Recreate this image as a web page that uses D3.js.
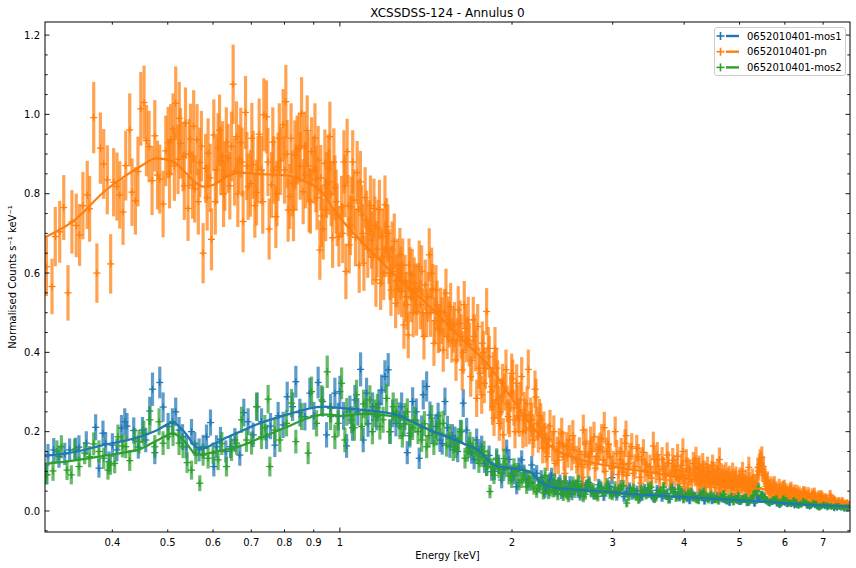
<!DOCTYPE html>
<html><head><meta charset="utf-8">
<script src="https://cdn.jsdelivr.net/npm/d3@7/dist/d3.min.js"></script>
<style>body{margin:0;background:#fff}svg{display:block}text{font-family:"DejaVu Sans",sans-serif;fill:#000}</style>
</head><body>
<svg id="c" width="856" height="568"></svg>
<script>
// ---------------- DATA ----------------
const title = "XCSSDSS-124 - Annulus 0";
const seriesNames = ["0652010401-mos1", "0652010401-pn", "0652010401-mos2"];
const seriesColors = ["#1f77b4", "#ff7f0e", "#2ca02c"];
const xTickValues = [0.4,0.5,0.6,0.7,0.8,0.9,1,2,3,4,5,6,7];
const xTickLabels = ["0.4","0.5","0.6","0.7","0.8","0.9","1","2","3","4","5","6","7"];
const yTickValues = [0,0.2,0.4,0.6,0.8,1.0,1.2];
const yTickLabels = ["0.0","0.2","0.4","0.6","0.8","1.0","1.2"];

// [energy keV, normalised counts, 1-sigma error]
const pnData = [
[0.3067,0.616,0.074],[0.3137,0.566,0.07],[0.3179,0.692,0.075],[0.3236,0.704,0.078],[0.3289,0.765,0.082],[0.3346,0.55,0.07],[0.3399,0.729,0.08],[0.3459,0.72,0.08],[0.3506,0.696,0.078],[0.3553,0.77,0.085],[0.3615,0.797,0.086],[0.3651,0.762,0.083],[0.3711,0.992,0.09],[0.3759,0.60,0.075],[0.3812,0.915,0.09],[0.3863,0.875,0.088],[0.392,0.835,0.087],[0.3973,0.623,0.075],[0.4021,0.829,0.086],[0.4075,0.818,0.086],[0.4121,0.797,0.085],[0.4176,0.754,0.083],[0.4222,0.871,0.088],[0.429,0.961,0.092],[0.433,0.804,0.085],[0.4389,0.782,0.085],[0.4435,0.856,0.088],[0.4485,1.014,0.093],[0.4545,1.03,0.093],[0.4589,0.934,0.09],[0.4638,0.919,0.09],[0.4694,0.833,0.087],[0.4746,0.946,0.09],[0.4798,0.847,0.087],[0.4842,0.837,0.087],[0.4907,0.774,0.084],[0.4961,0.908,0.089],[0.5007,0.929,0.09],[0.506,0.936,0.09],[0.5108,0.963,0.09],[0.5163,1.028,0.093],[0.5211,0.887,0.088],[0.5263,0.927,0.089],[0.5318,0.894,0.088],[0.537,0.978,0.09],[0.5426,0.763,0.082],[0.5479,0.938,0.089],[0.5524,0.822,0.085],[0.5575,0.812,0.085],[0.5626,0.936,0.09],[0.5689,0.879,0.088],[0.5765,0.65,0.076],[0.5822,0.864,0.087],[0.5882,0.902,0.088],[0.5963,0.685,0.078],[0.6019,0.948,0.09],[0.6084,0.86,0.086],[0.6123,0.915,0.088],[0.6191,0.883,0.087],[0.6234,0.895,0.088],[0.6292,0.843,0.086],[0.6376,0.889,0.087],[0.6464,0.919,0.088],[0.6506,1.076,0.1],[0.6545,0.856,0.086],[0.6595,0.944,0.089],[0.6658,0.887,0.087],[0.671,0.929,0.088],[0.6773,0.73,0.078],[0.6839,1.005,0.092],[0.691,0.818,0.084],[0.6978,0.826,0.084],[0.7052,0.873,0.086],[0.7149,0.803,0.083],[0.7225,0.95,0.09],[0.7294,0.86,0.086],[0.7362,0.999,0.092],[0.7442,0.994,0.092],[0.7521,0.711,0.077],[0.7594,0.822,0.083],[0.7665,0.86,0.085],[0.7727,0.742,0.079],[0.7798,0.868,0.086],[0.7874,0.883,0.086],[0.7957,0.974,0.09],[0.8044,1.032,0.093],[0.8119,0.759,0.08],[0.8175,0.793,0.082],[0.8251,0.826,0.083],[0.8342,0.898,0.087],[0.8418,0.91,0.087],[0.8487,0.915,0.088],[0.857,1.003,0.091],[0.8625,0.805,0.082],[0.8709,0.847,0.084],[0.8766,0.959,0.089],[0.8836,0.784,0.081],[0.8922,0.906,0.087],[0.9005,0.86,0.085],[0.9078,0.837,0.084],[0.9162,0.885,0.086],[0.9226,0.658,0.075],[0.929,0.744,0.079],[0.935,0.711,0.077],[0.9414,0.877,0.085],[0.9478,0.822,0.083],[0.954,0.864,0.085],[0.9605,0.944,0.088],[0.971,0.689,0.076],[0.9801,0.815,0.082],[0.989,0.747,0.079],[0.9961,0.692,0.076],
[0.5035,0.85,0.087],[0.5135,0.87,0.088],[0.5237,0.99,0.092],[0.5345,0.82,0.086],[0.545,0.9,0.088],[0.555,0.97,0.091],[0.5655,0.78,0.083],[0.5725,0.92,0.089],[0.586,0.79,0.083],[0.593,0.84,0.086],[0.6055,0.78,0.083],[0.616,0.96,0.09],[0.626,0.8,0.084],[0.633,0.93,0.088],[0.642,0.82,0.085],[0.663,0.8,0.084],[0.6745,0.88,0.087],[0.6875,0.87,0.086],[0.7015,0.94,0.089],[0.71,0.77,0.081],[0.719,0.86,0.085],[0.733,0.78,0.081],[0.7485,0.88,0.086],[0.7633,0.93,0.088],[0.776,0.8,0.082],[0.7835,0.94,0.088],[0.8,0.86,0.085],[0.8085,0.9,0.086],[0.8215,0.94,0.088],[0.8295,0.76,0.08],[0.838,0.84,0.083],[0.8525,0.87,0.085],[0.867,0.92,0.087],[0.88,0.87,0.085],[0.888,0.78,0.081],[0.9045,0.94,0.088],[0.912,0.79,0.081],[0.926,0.84,0.083],[0.9445,0.76,0.08],[0.9575,0.83,0.083],[0.9655,0.8,0.082],[0.976,0.88,0.085],[0.985,0.78,0.081],
[1.0069,0.767,0.078],[1.0163,0.88,0.08],[1.0245,0.604,0.07],[1.0297,0.906,0.083],[1.0382,0.671,0.072],[1.0483,0.767,0.076],[1.058,0.784,0.077],[1.072,0.853,0.08],[1.0809,0.62,0.07],[1.0914,0.747,0.075],[1.1016,0.625,0.07],[1.1135,0.734,0.074],[1.1253,0.711,0.073],[1.1363,0.683,0.072],[1.1469,0.763,0.075],[1.1561,0.583,0.068],[1.1669,0.713,0.072],[1.1782,0.574,0.067],[1.1878,0.692,0.071],[1.1989,0.772,0.074],[1.207,0.717,0.072],[1.2184,0.641,0.069],[1.2281,0.557,0.065],[1.2396,0.604,0.067],[1.2517,0.524,0.063],[1.2619,0.62,0.067],[1.2735,0.646,0.068],[1.2823,0.553,0.064],[1.2943,0.469,0.06],[1.3047,0.54,0.063],[1.3168,0.444,0.059],[1.3258,0.599,0.066],[1.3381,0.595,0.066],[1.349,0.574,0.065],[1.362,0.503,0.061],[1.3764,0.616,0.066],[1.3899,0.604,0.066],[1.4029,0.44,0.058],[1.4181,0.499,0.061],[1.4331,0.646,0.067],[1.447,0.599,0.065],[1.4605,0.423,0.057],[1.4723,0.557,0.063],[1.486,0.456,0.058],[1.5004,0.503,0.06],[1.5162,0.406,0.055],[1.5329,0.549,0.062],[1.5471,0.482,0.059],[1.5621,0.515,0.06],[1.5786,0.456,0.057],[1.5959,0.381,0.053],[1.6107,0.507,0.06],[1.6218,0.473,0.058],[1.6369,0.356,0.052],[1.6502,0.52,0.06],[1.6661,0.431,0.056],[1.6769,0.482,0.058],[1.6931,0.339,0.051],[1.711,0.482,0.058],[1.7277,0.406,0.054],[1.7345,0.284,0.047],[1.7418,0.465,0.057],[1.7578,0.347,0.051],[1.77,0.293,0.048],[1.7742,0.423,0.055],[1.7886,0.322,0.05],[1.8058,0.503,0.059],[1.8176,0.41,0.054],[1.825,0.389,0.053],[1.8427,0.314,0.049],[1.8486,0.263,0.046],[1.86,0.234,0.045],[1.8674,0.41,0.054],[1.88,0.36,0.051],[1.888,0.33,0.05],[1.90,0.221,0.044],[1.9184,0.288,0.047],[1.9245,0.322,0.049],[1.9308,0.192,0.042],[1.952,0.356,0.051],[1.97,0.238,0.044],[1.9893,0.297,0.047],[1.9974,0.347,0.05],[2.0055,0.333,0.049],[2.0242,0.2,0.042],[2.0379,0.322,0.048],[2.0426,0.272,0.046],[2.0595,0.23,0.043],[2.0794,0.339,0.049],[2.0989,0.255,0.045],[2.1158,0.204,0.042],[2.1354,0.357,0.05],[2.1561,0.242,0.044],[2.1737,0.179,0.04],[2.194,0.307,0.047],[2.2028,0.287,0.046],[2.2232,0.187,0.04],[2.2448,0.23,0.042],[2.2631,0.158,0.038],[2.2842,0.183,0.039],[2.305,0.137,0.036],
[1.0115,0.7,0.075],[1.0205,0.82,0.079],[1.034,0.77,0.077],[1.043,0.72,0.075],[1.053,0.88,0.08],[1.065,0.69,0.073],[1.0765,0.76,0.076],[1.086,0.83,0.078],[1.0965,0.7,0.074],[1.107,0.79,0.077],[1.119,0.66,0.072],[1.131,0.77,0.076],[1.1415,0.64,0.07],[1.1515,0.72,0.073],[1.1615,0.66,0.071],[1.1725,0.76,0.075],[1.183,0.64,0.07],[1.193,0.6,0.068],[1.2025,0.66,0.07],[1.213,0.7,0.072],[1.2235,0.6,0.068],[1.234,0.66,0.07],[1.245,0.68,0.07],[1.2565,0.58,0.066],[1.268,0.56,0.065],[1.278,0.6,0.067],[1.288,0.62,0.067],[1.3,0.58,0.066],[1.311,0.52,0.063],[1.321,0.62,0.067],[1.332,0.54,0.064],[1.3435,0.5,0.062],[1.3555,0.56,0.064],[1.369,0.56,0.064],[1.383,0.52,0.062],[1.396,0.5,0.061],[1.41,0.57,0.064],[1.4255,0.54,0.063],[1.44,0.5,0.061],[1.4535,0.56,0.063],[1.4665,0.48,0.06],[1.479,0.52,0.061],[1.493,0.46,0.059],[1.508,0.48,0.059],[1.524,0.5,0.06],[1.54,0.44,0.057],[1.5545,0.47,0.058],[1.57,0.43,0.056],[1.587,0.47,0.057],[1.603,0.43,0.056],[1.629,0.44,0.056],[1.6435,0.4,0.054],[1.658,0.46,0.057],[1.684,0.42,0.055],[1.702,0.38,0.053],[1.719,0.44,0.056],[1.75,0.36,0.052],[1.7815,0.4,0.054],[1.797,0.36,0.052],[1.835,0.3,0.048],[1.8545,0.35,0.051],[1.875,0.28,0.047],[1.8935,0.27,0.046],[1.909,0.25,0.045],[1.94,0.3,0.047],[1.9615,0.27,0.046],[1.98,0.23,0.044],[2.015,0.26,0.045],[2.05,0.24,0.044],[2.069,0.28,0.046],[2.089,0.2,0.042],[2.107,0.24,0.044],[2.125,0.27,0.045],[2.145,0.21,0.042],[2.165,0.23,0.043],[2.184,0.2,0.041],[2.213,0.22,0.042],[2.234,0.24,0.043],[2.254,0.2,0.041],[2.2735,0.21,0.041],[2.295,0.16,0.038],
[2.3305,0.214,0.041],[2.3561,0.162,0.038],[2.378,0.12,0.035],[2.3997,0.15,0.037],[2.4195,0.171,0.038],[2.443,0.196,0.039],[2.4659,0.137,0.036],[2.4925,0.162,0.037],[2.519,0.179,0.038],[2.5435,0.137,0.035],[2.5673,0.154,0.036],[2.5951,0.129,0.035],[2.6226,0.15,0.036],[2.6457,0.118,0.034],[2.6651,0.204,0.039],[2.6943,0.171,0.037],[2.7304,0.137,0.035],[2.7569,0.15,0.036],[2.7826,0.187,0.038],[2.8128,0.137,0.035],[2.8506,0.162,0.036],[2.8888,0.129,0.034],[2.9284,0.15,0.035],[2.9678,0.137,0.034],[3.0076,0.12,0.032],[3.0488,0.145,0.034],[3.0898,0.129,0.033],[3.121,0.098,0.03],[3.1528,0.171,0.035],[3.1949,0.12,0.032],[3.239,0.162,0.034],[3.2824,0.112,0.031],[3.3262,0.137,0.032],[3.3721,0.129,0.032],[3.4173,0.103,0.03],[3.4588,0.09,0.029],[3.4867,0.112,0.03],[3.5334,0.164,0.036],[3.5721,0.098,0.029],[3.6052,0.112,0.03],[3.6786,0.106,0.03],[3.7189,0.088,0.028],[3.7534,0.12,0.03],[3.8054,0.095,0.028],[3.8409,0.112,0.029],[3.8825,0.103,0.029],[3.9101,0.08,0.027],[3.9346,0.087,0.027],[3.9743,0.1,0.028],[4.0149,0.082,0.026],[4.055,0.107,0.028],[4.0964,0.103,0.028],[4.1513,0.12,0.029],[4.18,0.088,0.026],[4.2082,0.091,0.026],[4.2381,0.105,0.027],[4.2648,0.078,0.025],[4.2942,0.094,0.026],[4.322,0.087,0.025],[4.3518,0.072,0.024],[4.3812,0.095,0.026],[4.4124,0.083,0.025],[4.4401,0.074,0.024],[4.4707,0.1,0.026],[4.4996,0.082,0.024],[4.5307,0.067,0.023],[4.5613,0.09,0.025],[4.5911,0.087,0.024],[4.6226,0.064,0.022],[4.6545,0.07,0.023],[4.6882,0.092,0.025],[4.717,0.06,0.022],[4.7488,0.078,0.023],[4.7825,0.085,0.024],[4.8127,0.066,0.022],[4.8459,0.058,0.021],[4.8772,0.072,0.022],[4.9109,0.082,0.023],[4.9441,0.06,0.021],[4.9763,0.07,0.022],[5.0105,0.087,0.023],[5.0451,0.062,0.021],[5.0776,0.074,0.022],[5.1127,0.055,0.02],[5.1473,0.068,0.021],[5.1809,0.061,0.021],[5.2165,0.05,0.019],[5.2525,0.066,0.021],[5.2864,0.07,0.021],[5.3229,0.06,0.02],[5.3714,0.091,0.023],[5.4017,0.1,0.024],[5.431,0.129,0.027],[5.4685,0.135,0.028],[5.5038,0.112,0.026],[5.5418,0.085,0.023],[5.5793,0.074,0.022],[5.6157,0.06,0.02],[5.6542,0.057,0.02],[5.6932,0.048,0.019],[5.73,0.062,0.02],[5.7695,0.053,0.019],[5.8086,0.042,0.018],[5.8464,0.05,0.019],[5.8867,0.045,0.018],[5.9273,0.055,0.019],[5.9656,0.057,0.019],[6.0068,0.04,0.017],[6.0474,0.046,0.018],[6.0868,0.04,0.017],[6.1287,0.052,0.018],[6.171,0.036,0.016],[6.2108,0.044,0.017],[6.2537,0.034,0.016],[6.296,0.049,0.017],[6.3371,0.038,0.016],[6.3806,0.04,0.016],[6.4323,0.03,0.015],[6.4712,0.047,0.016],[6.5108,0.045,0.016],[6.5637,0.032,0.015],[6.6429,0.032,0.015],[6.6967,0.042,0.015],[6.7372,0.03,0.014],[6.7784,0.036,0.014],[6.8336,0.025,0.013],[6.8747,0.038,0.014],[6.916,0.028,0.013],[6.972,0.035,0.013],[7.0142,0.022,0.012],[7.0571,0.032,0.013],[7.1145,0.026,0.012],[7.2003,0.04,0.013],[7.2586,0.022,0.011],[7.3025,0.028,0.012],[7.3472,0.024,0.011],[7.407,0.018,0.01],[7.4963,0.02,0.01],[7.557,0.025,0.01],[7.6027,0.016,0.009],[7.6492,0.015,0.009],[7.7114,0.02,0.009],[7.7738,0.015,0.009],
[2.318,0.18,0.04],[2.367,0.2,0.041],[2.41,0.128,0.035],[2.455,0.165,0.037],[2.505,0.145,0.036],[2.555,0.19,0.039],[2.61,0.112,0.033],[2.68,0.142,0.035],[2.715,0.118,0.033],[2.745,0.176,0.037],[2.795,0.108,0.033],[2.83,0.155,0.035],[2.87,0.182,0.037],[2.91,0.1,0.031],[2.95,0.168,0.036],[2.99,0.108,0.032],[3.03,0.2,0.038],[3.07,0.092,0.03],[3.105,0.15,0.034],[3.137,0.118,0.032],[3.175,0.09,0.03],[3.215,0.138,0.033],[3.26,0.095,0.03],[3.305,0.158,0.034],[3.35,0.085,0.029],[3.395,0.148,0.033],[3.44,0.118,0.031],[3.51,0.083,0.028],[3.55,0.13,0.032],[3.59,0.142,0.032],[3.625,0.08,0.028],[3.66,0.13,0.031],[3.7,0.095,0.029],[3.735,0.141,0.032],[3.78,0.078,0.027],[3.82,0.128,0.031],[3.86,0.09,0.028],[3.895,0.138,0.031],[3.955,0.115,0.03],[3.995,0.07,0.026],[4.035,0.126,0.03],[4.075,0.09,0.027],[4.12,0.074,0.026],[4.165,0.108,0.028],[4.195,0.132,0.03],[4.225,0.07,0.025],[4.25,0.112,0.028],[4.28,0.065,0.024],[4.31,0.118,0.028],[4.335,0.1,0.027],[4.365,0.062,0.024],[4.395,0.11,0.027],[4.425,0.092,0.026],[4.455,0.06,0.023],[4.485,0.115,0.027],[4.515,0.098,0.026],[4.545,0.07,0.024],[4.575,0.105,0.026],[4.605,0.058,0.022],[4.64,0.096,0.025],[4.67,0.082,0.024],[4.70,0.072,0.023],[4.733,0.098,0.025],[4.765,0.064,0.022],[4.797,0.09,0.024],[4.83,0.075,0.023],[4.862,0.098,0.024],[4.895,0.06,0.022],[4.927,0.088,0.024],[4.96,0.052,0.021],[4.993,0.08,0.023],[5.028,0.068,0.022],[5.06,0.1,0.024],[5.095,0.07,0.022],[5.13,0.082,0.023],[5.165,0.05,0.02],[5.198,0.076,0.022],[5.234,0.062,0.021],[5.27,0.085,0.022],[5.305,0.052,0.02],[5.345,0.072,0.021],[5.385,0.11,0.025],[5.416,0.118,0.026],[5.45,0.122,0.027],[5.486,0.098,0.025],[5.522,0.09,0.024],[5.56,0.062,0.021],[5.598,0.078,0.022],[5.635,0.048,0.019],[5.673,0.066,0.021],[5.71,0.05,0.019],[5.75,0.068,0.02],[5.79,0.056,0.019],[5.828,0.038,0.017],[5.866,0.062,0.019],[5.905,0.05,0.018],[5.945,0.04,0.017],[5.986,0.06,0.019],[6.027,0.052,0.018],[6.067,0.034,0.016],[6.107,0.047,0.017],[6.15,0.056,0.018],[6.19,0.04,0.016],[6.23,0.05,0.017],[6.275,0.042,0.016],[6.316,0.03,0.015],[6.358,0.046,0.016],[6.405,0.036,0.015],[6.452,0.042,0.016],[6.49,0.028,0.014],[6.537,0.038,0.015],[6.6,0.045,0.015],[6.67,0.026,0.013],[6.717,0.036,0.014],[6.757,0.044,0.015],[6.805,0.03,0.013],[6.855,0.022,0.012],[6.895,0.033,0.013],[6.944,0.04,0.013],[6.993,0.028,0.012],[7.035,0.02,0.011],[7.085,0.03,0.012],[7.16,0.022,0.011],[7.23,0.032,0.012],[7.28,0.018,0.01],[7.325,0.026,0.011],[7.377,0.02,0.01],[7.45,0.025,0.01],[7.527,0.017,0.009],[7.58,0.021,0.009],[7.625,0.012,0.008],[7.68,0.018,0.009],[7.743,0.013,0.008],[7.79,0.016,0.008],
[2.9,0.21,0.04],[3.165,0.19,0.038],[3.98,0.15,0.033],[4.61,0.13,0.03],[5.19,0.11,0.027],[2.475,0.095,0.032],[2.66,0.085,0.03],[3.36,0.07,0.027],[4.06,0.058,0.024]
];

const mos1Data = [
[0.3063,0.092,0.025],[0.3087,0.141,0.028],[0.3159,0.154,0.03],[0.3227,0.137,0.028],[0.3302,0.144,0.028],[0.3368,0.154,0.029],[0.345,0.156,0.029],[0.3497,0.161,0.03],[0.3602,0.171,0.03],[0.374,0.211,0.033],[0.379,0.108,0.024],[0.3852,0.196,0.032],[0.3894,0.169,0.03],[0.3946,0.124,0.026],[0.4001,0.166,0.03],[0.4075,0.154,0.029],[0.415,0.209,0.033],[0.4205,0.225,0.034],[0.4243,0.214,0.033],[0.436,0.203,0.033],[0.4441,0.161,0.029],[0.4516,0.204,0.033],[0.4576,0.179,0.031],[0.4651,0.252,0.036],[0.4702,0.307,0.042],[0.4746,0.147,0.029],[0.4842,0.324,0.04],[0.4907,0.262,0.037],[0.5007,0.213,0.034],[0.5095,0.225,0.034],[0.5163,0.25,0.036],[0.5233,0.204,0.033],[0.5306,0.187,0.032],[0.5391,0.162,0.03],[0.5502,0.2,0.032],[0.5575,0.169,0.03],[0.5673,0.154,0.029],[0.5765,0.162,0.03],[0.5844,0.187,0.031],[0.5939,0.223,0.033],[0.6019,0.112,0.025],[0.6084,0.162,0.029],[0.6183,0.181,0.031],[0.6317,0.15,0.028],[0.6438,0.162,0.029],[0.6551,0.179,0.03],[0.6683,0.141,0.027],[0.6792,0.248,0.035],[0.691,0.225,0.034],[0.7052,0.192,0.031],[0.7166,0.263,0.036],[0.7294,0.225,0.034],[0.7442,0.187,0.031],[0.7563,0.214,0.033],[0.7696,0.166,0.03],[0.7798,0.24,0.035],[0.7957,0.217,0.033],[0.8088,0.288,0.038],[0.8265,0.263,0.036],[0.8375,0.326,0.04],[0.8511,0.248,0.035],[0.8685,0.238,0.035],[0.8861,0.297,0.039],[0.9005,0.24,0.035],[0.9162,0.324,0.04],[0.9327,0.276,0.038],[0.9478,0.192,0.032],[0.9632,0.259,0.036],[0.9801,0.297,0.039],[0.9932,0.238,0.035],
[1.0,0.301,0.04],[1.0273,0.164,0.03],[1.0411,0.255,0.036],[1.0623,0.28,0.038],[1.0869,0.357,0.043],[1.0984,0.179,0.031],[1.1135,0.297,0.039],[1.1409,0.263,0.036],[1.1593,0.238,0.035],[1.183,0.305,0.039],[1.1989,0.339,0.041],[1.2148,0.356,0.042],[1.2367,0.246,0.035],[1.2532,0.221,0.033],[1.2823,0.263,0.036],[1.3117,0.147,0.029],[1.3404,0.276,0.036],[1.3764,0.133,0.027],[1.3989,0.293,0.037],[1.4181,0.314,0.038],[1.4371,0.242,0.034],[1.4723,0.213,0.032],[1.4962,0.179,0.03],[1.5267,0.276,0.035],[1.5577,0.162,0.028],[1.5895,0.183,0.03],[1.6435,0.272,0.035],[1.6661,0.204,0.031],[1.7001,0.146,0.027],[1.7345,0.179,0.029],[1.77,0.162,0.028],[1.8058,0.112,0.024],[1.8427,0.099,0.023],[1.88,0.133,0.025],[1.894,0.118,0.024],[1.9184,0.078,0.021],[1.9364,0.104,0.023],[1.9573,0.154,0.026],[1.9758,0.13,0.024],[1.9974,0.095,0.022],[2.0161,0.088,0.021],[2.0379,0.061,0.019],[2.0571,0.112,0.023],[2.0794,0.129,0.024],[2.0989,0.096,0.021],[2.1216,0.078,0.02],[2.1416,0.07,0.019],[2.165,0.116,0.023],[2.1851,0.088,0.02],[2.2088,0.095,0.021],[2.2297,0.064,0.018],[2.2685,0.07,0.019],[2.2981,0.058,0.017],[2.3305,0.078,0.019],[2.359,0.066,0.018],[2.3944,0.061,0.018],[2.4263,0.074,0.018],[2.4588,0.053,0.017],[2.4909,0.05,0.016],[2.5261,0.07,0.018],[2.5673,0.06,0.017],[2.612,0.049,0.016],[2.6512,0.068,0.017],[2.7017,0.061,0.017],[2.749,0.052,0.016],[2.8128,0.045,0.015],[2.862,0.058,0.016],[2.9284,0.057,0.016],[2.9797,0.05,0.015],[2.9918,0.084,0.017],[3.0488,0.04,0.014],[3.1022,0.062,0.016],[3.1742,0.049,0.015],[3.2429,0.042,0.014],[3.3091,0.05,0.014],[3.3761,0.038,0.013],[3.4451,0.046,0.014],[3.515,0.04,0.013],[3.5867,0.052,0.014],[3.6594,0.036,0.013],[3.7342,0.044,0.013],[3.8099,0.06,0.015],[3.8878,0.038,0.012],[3.9665,0.045,0.013],[4.0475,0.034,0.012],[4.1296,0.042,0.012],[4.214,0.03,0.011],[4.2993,0.04,0.012],[4.3872,0.034,0.011],[4.4761,0.028,0.011],[4.5675,0.038,0.011],[4.66,0.032,0.011],[4.7553,0.026,0.01],[4.8517,0.034,0.011],[4.9508,0.028,0.01],[5.0511,0.03,0.01],[5.1543,0.022,0.01],[5.2588,0.032,0.01],[5.3662,0.036,0.011],[5.475,0.04,0.011],[5.5869,0.026,0.01],[5.7,0.024,0.009],[5.8165,0.02,0.009],[5.9344,0.026,0.009],[6.0557,0.018,0.008],[6.1783,0.022,0.008],[6.3046,0.016,0.008],[6.4323,0.02,0.008],[6.5637,0.014,0.007],[6.6967,0.018,0.007],[6.8336,0.012,0.007],[6.972,0.015,0.007],[7.1145,0.01,0.006],[7.2586,0.013,0.006],[7.407,0.009,0.006],[7.557,0.011,0.006],[7.7114,0.008,0.006],
[1.015,0.24,0.035],[1.052,0.21,0.033],[1.075,0.25,0.035],[1.12,0.22,0.033],[1.17,0.27,0.036],[1.225,0.2,0.031],[1.27,0.24,0.034],[1.295,0.22,0.032],[1.325,0.19,0.03],[1.36,0.25,0.034],[1.39,0.21,0.031],[1.45,0.2,0.031],[1.485,0.24,0.033],[1.51,0.17,0.028],[1.542,0.21,0.03],[1.573,0.19,0.029],[1.607,0.15,0.027],[1.625,0.2,0.03],[1.683,0.16,0.027],[1.717,0.13,0.025],[1.752,0.15,0.026],[1.79,0.12,0.024],[1.824,0.14,0.025],[1.862,0.1,0.022],
[2.25,0.084,0.019],[2.283,0.048,0.016],[2.315,0.07,0.018],[2.345,0.09,0.019],[2.375,0.052,0.016],[2.41,0.068,0.017],[2.442,0.045,0.015],[2.475,0.076,0.017],[2.51,0.058,0.016],[2.545,0.042,0.015],[2.59,0.064,0.016],[2.632,0.04,0.014],[2.676,0.058,0.015],[2.725,0.072,0.016],[2.78,0.043,0.014],[2.835,0.066,0.015],[2.895,0.038,0.013],[2.955,0.062,0.015],[3.02,0.048,0.014],[3.075,0.055,0.014],[3.14,0.036,0.013],[3.21,0.058,0.014],[3.275,0.044,0.013],[3.343,0.034,0.012],[3.41,0.054,0.014],[3.48,0.046,0.013],[3.55,0.032,0.012],[3.623,0.05,0.013],[3.697,0.042,0.012],[3.772,0.03,0.011],[3.85,0.048,0.012],[3.927,0.036,0.012],[4.007,0.044,0.012],[4.09,0.028,0.011],[4.172,0.038,0.011],[4.256,0.046,0.012],[4.343,0.026,0.01],[4.431,0.036,0.011],[4.521,0.03,0.01],[4.613,0.04,0.011],[4.707,0.03,0.01],[4.803,0.022,0.009],[4.9,0.036,0.01],[5.0,0.024,0.009],[5.103,0.034,0.01],[5.206,0.026,0.009],[5.312,0.02,0.009],[5.42,0.03,0.009],[5.53,0.033,0.01],[5.642,0.02,0.008],[5.757,0.026,0.009],[5.875,0.016,0.008],[5.995,0.022,0.008],[6.117,0.026,0.008],[6.24,0.015,0.007],[6.368,0.019,0.007],[6.5,0.022,0.008],[6.63,0.012,0.007],[6.765,0.016,0.007],[6.9,0.01,0.006],[7.045,0.013,0.006],[7.185,0.015,0.006],[7.33,0.008,0.005],[7.48,0.012,0.006],[7.63,0.007,0.005],[7.76,0.01,0.005]
];

const mos2Data = [
[0.3074,0.091,0.024],[0.315,0.101,0.025],[0.32,0.15,0.028],[0.3258,0.162,0.029],[0.3333,0.103,0.025],[0.3391,0.091,0.024],[0.3437,0.154,0.028],[0.3497,0.112,0.025],[0.3578,0.146,0.028],[0.3651,0.137,0.027],[0.3711,0.169,0.029],[0.379,0.15,0.028],[0.3863,0.133,0.027],[0.393,0.103,0.024],[0.3968,0.116,0.025],[0.4038,0.12,0.025],[0.4092,0.187,0.031],[0.4166,0.164,0.029],[0.4222,0.162,0.029],[0.429,0.127,0.026],[0.4378,0.179,0.03],[0.4454,0.175,0.03],[0.454,0.196,0.032],[0.4651,0.23,0.034],[0.4746,0.162,0.029],[0.4829,0.225,0.034],[0.4907,0.171,0.03],[0.5007,0.187,0.031],[0.5108,0.196,0.032],[0.5233,0.171,0.03],[0.5318,0.162,0.029],[0.5405,0.122,0.026],[0.5502,0.103,0.024],[0.5598,0.146,0.028],[0.5689,0.07,0.02],[0.5765,0.141,0.027],[0.5882,0.133,0.026],[0.6001,0.146,0.027],[0.6123,0.129,0.026],[0.6216,0.17,0.029],[0.6334,0.112,0.025],[0.6464,0.154,0.028],[0.6595,0.171,0.029],[0.6729,0.23,0.033],[0.6865,0.179,0.03],[0.7007,0.171,0.029],[0.7149,0.263,0.035],[0.7294,0.187,0.031],[0.7392,0.21,0.032],[0.749,0.282,0.036],[0.7542,0.112,0.025],[0.7696,0.204,0.032],[0.7852,0.179,0.03],[0.8066,0.221,0.033],[0.8231,0.272,0.036],[0.8375,0.175,0.03],[0.857,0.238,0.034],[0.88,0.146,0.028],[0.8922,0.301,0.038],[0.9103,0.221,0.033],[0.929,0.28,0.037],[0.9503,0.351,0.041],[0.9632,0.238,0.034],[0.9801,0.187,0.031],[0.9932,0.221,0.033],
[1.0069,0.322,0.04],[1.0204,0.179,0.031],[1.0483,0.23,0.034],[1.0695,0.293,0.038],[1.0914,0.213,0.033],[1.1105,0.25,0.035],[1.1285,0.28,0.037],[1.1515,0.246,0.035],[1.1749,0.213,0.033],[1.207,0.284,0.037],[1.2396,0.263,0.036],[1.2735,0.213,0.032],[1.2995,0.238,0.034],[1.3258,0.196,0.031],[1.3528,0.23,0.033],[1.3899,0.179,0.03],[1.4181,0.162,0.029],[1.447,0.234,0.033],[1.4763,0.196,0.031],[1.5162,0.221,0.032],[1.537,0.166,0.029],[1.5786,0.154,0.028],[1.6107,0.179,0.03],[1.6549,0.133,0.026],[1.6884,0.171,0.029],[1.7345,0.146,0.027],[1.77,0.137,0.026],[1.7865,0.15,0.027],[1.8058,0.112,0.024],[1.8301,0.049,0.017],[1.86,0.09,0.022],[1.88,0.129,0.025],[1.8978,0.105,0.023],[1.9184,0.095,0.022],[1.9364,0.132,0.025],[1.9573,0.112,0.023],[1.9758,0.088,0.021],[1.9974,0.078,0.02],[2.0161,0.11,0.023],[2.0379,0.099,0.022],[2.0571,0.072,0.02],[2.0794,0.078,0.02],[2.0989,0.09,0.021],[2.1216,0.061,0.018],[2.1416,0.082,0.02],[2.165,0.07,0.019],[2.1851,0.058,0.017],[2.2088,0.049,0.016],[2.2297,0.066,0.018],[2.2685,0.045,0.016],[2.3027,0.072,0.018],[2.3305,0.053,0.016],[2.359,0.05,0.016],[2.3944,0.061,0.017],[2.4263,0.066,0.017],[2.4588,0.04,0.015],[2.4959,0.044,0.015],[2.5261,0.053,0.016],[2.5569,0.07,0.017],[2.5951,0.061,0.017],[2.6299,0.05,0.015],[2.6651,0.036,0.014],[2.7054,0.064,0.016],[2.7569,0.049,0.015],[2.7939,0.042,0.014],[2.8506,0.061,0.016],[2.9088,0.052,0.015],[2.9678,0.045,0.015],[3.0283,0.06,0.015],[3.0898,0.053,0.015],[3.1742,0.02,0.011],[3.2297,0.05,0.014],[3.2956,0.038,0.013],[3.3624,0.052,0.014],[3.4311,0.042,0.013],[3.5006,0.06,0.015],[3.5721,0.036,0.012],[3.6445,0.048,0.013],[3.7189,0.04,0.012],[3.7944,0.055,0.014],[3.8719,0.035,0.012],[3.9503,0.05,0.013],[4.031,0.038,0.012],[4.1128,0.046,0.012],[4.1968,0.032,0.011],[4.2819,0.042,0.012],[4.3693,0.036,0.011],[4.4579,0.04,0.011],[4.5489,0.03,0.011],[4.641,0.036,0.011],[4.7359,0.028,0.01],[4.832,0.035,0.011],[4.9306,0.03,0.01],[5.0306,0.026,0.01],[5.1333,0.034,0.01],[5.2374,0.03,0.01],[5.3443,0.05,0.012],[5.4527,0.04,0.011],[5.5641,0.028,0.01],[5.6768,0.024,0.009],[5.7927,0.03,0.009],[5.9103,0.02,0.009],[6.031,0.026,0.009],[6.1532,0.018,0.008],[6.2789,0.022,0.008],[6.4061,0.017,0.008],[6.5369,0.02,0.007],[6.6695,0.014,0.007],[6.8057,0.017,0.007],[6.9437,0.012,0.007],[7.0854,0.014,0.006],[7.2291,0.011,0.006],[7.3767,0.013,0.006],[7.5263,0.009,0.006],[7.68,0.011,0.006],
[1.028,0.25,0.035],[1.06,0.21,0.033],[1.1,0.27,0.036],[1.14,0.2,0.032],[1.163,0.26,0.035],[1.19,0.23,0.033],[1.222,0.2,0.031],[1.255,0.25,0.034],[1.286,0.19,0.03],[1.312,0.25,0.034],[1.34,0.21,0.031],[1.37,0.2,0.031],[1.405,0.22,0.032],[1.432,0.19,0.03],[1.46,0.17,0.029],[1.495,0.22,0.031],[1.557,0.19,0.029],[1.595,0.16,0.027],[1.632,0.2,0.029],[1.67,0.15,0.026],[1.71,0.16,0.027],[1.75,0.12,0.024],[1.815,0.13,0.025],[1.845,0.11,0.023],
[2.248,0.07,0.018],[2.285,0.09,0.019],[2.318,0.046,0.016],[2.372,0.077,0.018],[2.405,0.042,0.015],[2.44,0.058,0.016],[2.478,0.072,0.017],[2.51,0.036,0.014],[2.54,0.06,0.016],[2.575,0.048,0.015],[2.612,0.075,0.017],[2.645,0.056,0.015],[2.685,0.042,0.014],[2.73,0.068,0.016],[2.775,0.055,0.015],[2.825,0.037,0.013],[2.88,0.05,0.014],[2.935,0.068,0.015],[2.995,0.04,0.013],[3.06,0.046,0.013],[3.13,0.064,0.014],[3.2,0.038,0.013],[3.263,0.055,0.014],[3.33,0.03,0.012],[3.395,0.048,0.013],[3.465,0.058,0.014],[3.535,0.034,0.012],[3.607,0.045,0.012],[3.68,0.06,0.013],[3.757,0.03,0.011],[3.832,0.046,0.012],[3.91,0.055,0.013],[3.99,0.03,0.011],[4.07,0.044,0.012],[4.153,0.034,0.011],[4.24,0.028,0.011],[4.325,0.048,0.012],[4.413,0.03,0.011],[4.503,0.036,0.011],[4.595,0.026,0.01],[4.688,0.042,0.011],[4.783,0.032,0.01],[4.88,0.024,0.01],[4.98,0.038,0.01],[5.08,0.03,0.01],[5.185,0.022,0.009],[5.29,0.04,0.01],[5.398,0.058,0.012],[5.508,0.036,0.011],[5.62,0.022,0.009],[5.734,0.028,0.009],[5.85,0.02,0.008],[5.97,0.03,0.009],[6.092,0.02,0.008],[6.216,0.026,0.008],[6.342,0.014,0.007],[6.47,0.024,0.008],[6.6,0.016,0.007],[6.737,0.02,0.007],[6.875,0.01,0.006],[7.015,0.016,0.006],[7.157,0.012,0.006],[7.3,0.009,0.005],[7.45,0.013,0.006],[7.6,0.008,0.005],[7.75,0.01,0.005]
];

// fitted model curves
const modelEnergy = [0.305,0.3413,0.3905,0.4176,0.4467,0.4778,0.5108,0.5391,0.5615,0.5765,0.6001,0.6334,0.6683,0.7149,0.8175,0.8709,0.935,0.9605,1.0,1.097,1.258,1.437,1.64,1.758,1.83,1.88,1.984,2.15,2.24,2.33,2.63,3.0,3.22,3.5,4.0,4.5,5.0,5.5,6.0,7.0,7.8];
const modelPn = [0.69,0.73,0.81,0.841,0.868,0.889,0.881,0.851,0.826,0.818,0.822,0.843,0.853,0.85,0.845,0.83,0.80,0.775,0.74,0.676,0.59,0.515,0.431,0.39,0.363,0.34,0.29,0.22,0.19,0.165,0.13,0.112,0.105,0.097,0.083,0.071,0.061,0.055,0.043,0.028,0.02];
const modelMos1 = [0.139,0.148,0.168,0.176,0.187,0.203,0.223,0.193,0.16,0.158,0.168,0.185,0.2,0.218,0.245,0.256,0.263,0.262,0.26,0.255,0.242,0.204,0.171,0.15,0.124,0.113,0.108,0.099,0.074,0.061,0.053,0.047,0.043,0.04,0.035,0.031,0.027,0.024,0.02,0.014,0.011];
const modelMos2 = [0.119,0.127,0.14,0.147,0.156,0.177,0.195,0.17,0.142,0.143,0.148,0.155,0.163,0.18,0.215,0.232,0.243,0.243,0.24,0.245,0.238,0.204,0.171,0.15,0.124,0.113,0.107,0.097,0.073,0.06,0.052,0.046,0.042,0.039,0.034,0.03,0.026,0.023,0.019,0.013,0.01];

// ---------------- DRAW ----------------
const svg = d3.select("#c");
const L = 45, R = 850, T = 22, B = 532;
const x = d3.scaleLog().domain([0.305, 7.8]).range([L, R]);
const y = d3.scaleLinear().domain([-0.053, 1.233]).range([B, T]);

svg.append("defs").append("clipPath").attr("id","clip")
  .append("rect").attr("x",L).attr("y",T).attr("width",R-L).attr("height",B-T);

const plot = svg.append("g").attr("clip-path","url(#clip)");

function drawSeries(data, color){
  const g = plot.append("g");
  g.selectAll("line.eb").data(data).enter().append("line")
    .attr("x1", d=>x(d[0])).attr("x2", d=>x(d[0]))
    .attr("y1", d=>y(d[1]-d[2])).attr("y2", d=>y(d[1]+d[2]))
    .attr("stroke", color).attr("stroke-width", 3.2).attr("stroke-opacity", 0.72);
  g.selectAll("line.h").data(data).enter().append("line")
    .attr("x1", d=>x(d[0])-3.5).attr("x2", d=>x(d[0])+3.5)
    .attr("y1", d=>y(d[1])).attr("y2", d=>y(d[1]))
    .attr("stroke", color).attr("stroke-width", 1.3);
  g.selectAll("line.v").data(data).enter().append("line")
    .attr("x1", d=>x(d[0])).attr("x2", d=>x(d[0]))
    .attr("y1", d=>y(d[1])-3.5).attr("y2", d=>y(d[1])+3.5)
    .attr("stroke", color).attr("stroke-width", 1.3);
}
drawSeries(mos1Data, seriesColors[0]);
drawSeries(pnData, seriesColors[1]);
drawSeries(mos2Data, seriesColors[2]);

const line = d3.line().x(d=>x(d[0])).y(d=>y(d[1])).curve(d3.curveMonotoneX);
function drawModel(vals, color){
  plot.append("path").datum(modelEnergy.map((e,i)=>[e, vals[i]]))
    .attr("d", line).attr("fill","none").attr("stroke", color).attr("stroke-width", 2.2);
}
drawModel(modelMos2, seriesColors[2]);
drawModel(modelPn, seriesColors[1]);
drawModel(modelMos1, seriesColors[0]);

// axes frame
svg.append("rect").attr("x",L).attr("y",T).attr("width",R-L).attr("height",B-T)
  .attr("fill","none").attr("stroke","#000").attr("stroke-width",1);

const ax = svg.append("g");
xTickValues.forEach((v,i)=>{
  const px = x(v); const len = (v===1) ? 4.5 : 2.7;
  ax.append("line").attr("x1",px).attr("x2",px).attr("y1",B).attr("y2",B-len).attr("stroke","#000").attr("stroke-width",0.9);
  ax.append("line").attr("x1",px).attr("x2",px).attr("y1",T).attr("y2",T+len).attr("stroke","#000").attr("stroke-width",0.9);
  ax.append("text").attr("x",px).attr("y",546).attr("text-anchor","middle").attr("font-size","10px").text(xTickLabels[i]);
});
d3.range(-0.05, 1.2301, 0.05).forEach(v=>{
  const vv = Math.round(v*100)/100;
  const major = Math.abs(Math.round(vv*5) - vv*5) < 1e-6;
  const len = major ? 4.5 : 2.7; const py = y(vv);
  ax.append("line").attr("x1",L).attr("x2",L+len).attr("y1",py).attr("y2",py).attr("stroke","#000").attr("stroke-width",0.9);
  ax.append("line").attr("x1",R).attr("x2",R-len).attr("y1",py).attr("y2",py).attr("stroke","#000").attr("stroke-width",0.9);
});
yTickValues.forEach((v,i)=>{
  ax.append("text").attr("x",40).attr("y",y(v)+3.6).attr("text-anchor","end").attr("font-size","10px").text(yTickLabels[i]);
});

svg.append("text").attr("x",(L+R)/2).attr("y",17).attr("text-anchor","middle").attr("font-size","12px").text(title);
svg.append("text").attr("x",(L+R)/2).attr("y",559).attr("text-anchor","middle").attr("font-size","10px").text("Energy [keV]");
svg.append("text").attr("transform","translate(16,"+((T+B)/2)+") rotate(-90)").attr("text-anchor","middle").attr("font-size","10px")
  .text("Normalised Counts s\u207B\u00B9 keV\u207B\u00B9");

const lg = svg.append("g");
lg.append("rect").attr("x",714.5).attr("y",27.5).attr("width",131).attr("height",48).attr("rx",2.5)
  .attr("fill","#fff").attr("fill-opacity",0.8).attr("stroke","#cccccc").attr("stroke-width",1);
seriesNames.forEach((n,i)=>{
  const cy = 36 + i*15.7;
  lg.append("line").attr("x1",716.5).attr("x2",724.5).attr("y1",cy).attr("y2",cy).attr("stroke",seriesColors[i]).attr("stroke-width",1.6);
  lg.append("line").attr("x1",720.5).attr("x2",720.5).attr("y1",cy-4).attr("y2",cy+4).attr("stroke",seriesColors[i]).attr("stroke-width",1.6);
  lg.append("line").attr("x1",726).attr("x2",739).attr("y1",cy).attr("y2",cy).attr("stroke",seriesColors[i]).attr("stroke-width",2.4);
  lg.append("text").attr("x",747).attr("y",cy+3.6).attr("font-size","10px").text(n);
});
</script>
</body></html>
